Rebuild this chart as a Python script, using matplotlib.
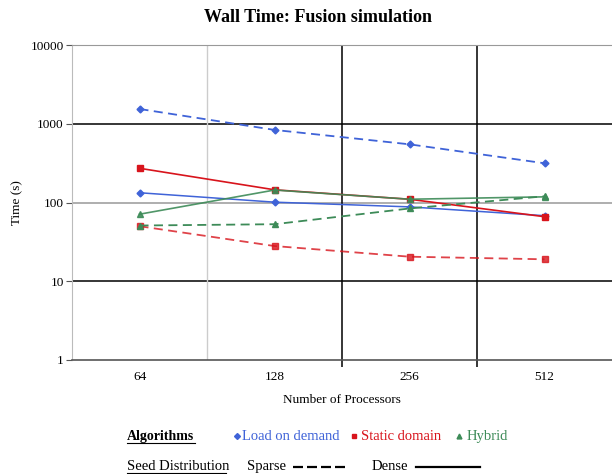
import matplotlib
matplotlib.use("Agg")
import matplotlib.pyplot as plt
from matplotlib.lines import Line2D
import numpy as np

plt.rcParams['font.family'] = ['Liberation Serif', 'DejaVu Serif']

procs = ['64', '128', '256', '512']
lod_sparse = [1540, 835, 548, 315]
lod_dense = [133, 101, 88, 68]
static_sparse = [50, 28, 20.5, 19]
static_dense = [272, 145, 110, 66]
hybrid_sparse = [51, 53, 84, 120]
hybrid_dense = [71, 144, 110, 118]

blue = '#3f63d8'
red = '#d8141c'
green = '#3d8b58'

W, H = 612, 474
fig = plt.figure(figsize=(W / 100, H / 100), dpi=100)
ax = fig.add_axes([72 / W, 1 - 360 / H, 540 / W, 315 / H])

x = np.arange(len(procs))
ax.set_yscale('log')
ax.set_ylim(1, 10000)
ax.set_xlim(-0.5, 3.5)

# grid lines
for v, c in [(10, 'black'), (100, '#999999'), (1000, 'black')]:
    ax.axhline(v, color=c, lw=1.1, zorder=1)
ax.axvline(0.5, color='#cccccc', lw=1.0, zorder=1)
ax.axvline(1.5, color='black', lw=1.1, zorder=1)
ax.axvline(2.5, color='black', lw=1.1, zorder=1)

ms = 4.5
ax.plot(x, lod_sparse, '--', color=blue, marker='D', ms=ms - 1, lw=1.3, dashes=(5, 3))
ax.plot(x, lod_dense, '-', color=blue, marker='D', ms=ms - 1, lw=1.1)
ax.plot(x, static_sparse, '--', color=red, marker='s', ms=ms, lw=1.3, dashes=(5, 3), alpha=0.8)
ax.plot(x, static_dense, '-', color=red, marker='s', ms=ms, lw=1.2)
ax.plot(x, hybrid_sparse, '--', color=green, marker='^', ms=ms, lw=1.3, dashes=(5, 3))
ax.plot(x, hybrid_dense, '-', color=green, marker='^', ms=ms, lw=1.2, alpha=0.9)

ax.set_yticks([1, 10, 100, 1000, 10000])
ax.set_yticklabels(['1', '10', '100', '1000', '10000'])
ax.minorticks_off()
ax.set_xticks(x)
ax.set_xticklabels(procs)
ax.set_xticks([1.5, 2.5], minor=True)
ax.tick_params(axis='y', length=4, width=0.8, color='#555555', labelsize=9.5, pad=2)
ax.tick_params(axis='x', which='major', length=0, labelsize=9.5, pad=8)
ax.tick_params(axis='x', which='minor', length=5, width=1.1, color='black')

for s in ['right']:
    ax.spines[s].set_visible(False)
ax.spines['top'].set_color('#999999')
ax.spines['left'].set_color('#bbbbbb')
ax.spines['bottom'].set_color('#555555')
ax.spines['bottom'].set_linewidth(1.2)

ax.set_ylabel('Time (s)', fontsize=9.5, labelpad=5)
ax.set_xlabel('Number of Processors', fontsize=9.5, labelpad=8)
fig.text(318 / W, 1 - 18 / H, 'Wall Time: Fusion simulation', ha='center', va='center',
         fontsize=13, fontweight='bold')


def fx(px):
    return px / W


def fy(py):
    return 1 - py / H


# custom legend
fs = 10.5
r1, r2 = 440, 470
fig.text(fx(127), fy(r1), 'Algorithms', fontsize=10, fontweight='bold', va='baseline')
fig.add_artist(Line2D([fx(127), fx(195)], [fy(r1 + 3), fy(r1 + 3)], color='black', lw=0.8))
fig.add_artist(Line2D([fx(237)], [fy(r1 - 4)], marker='D', ms=3, color=blue, ls='none'))
fig.text(fx(242), fy(r1), 'Load on demand', color=blue, fontsize=fs, va='baseline')
fig.add_artist(Line2D([fx(354)], [fy(r1 - 4)], marker='s', ms=3, color=red, ls='none'))
fig.text(fx(361), fy(r1), 'Static domain', color=red, fontsize=fs, va='baseline')
fig.add_artist(Line2D([fx(459)], [fy(r1 - 4)], marker='^', ms=3.5, color=green, ls='none'))
fig.text(fx(467), fy(r1), 'Hybrid', color=green, fontsize=fs, va='baseline')

fig.text(fx(127), fy(r2), 'Seed Distribution', fontsize=fs, va='baseline')
fig.add_artist(Line2D([fx(127), fx(226)], [fy(r2 + 3), fy(r2 + 3)], color='black', lw=0.8))
fig.text(fx(247), fy(r2), 'Sparse', fontsize=fs, va='baseline')
fig.add_artist(Line2D([fx(293), fx(349)], [fy(r2 - 3), fy(r2 - 3)], color='black', lw=1.6,
                      ls='--', dashes=(4.5, 1.8)))
fig.text(fx(372), fy(r2), 'Dense', fontsize=fs, va='baseline')
fig.add_artist(Line2D([fx(416), fx(480)], [fy(r2 - 3), fy(r2 - 3)], color='black', lw=1.6))

fig.savefig('out.png', dpi=100)
